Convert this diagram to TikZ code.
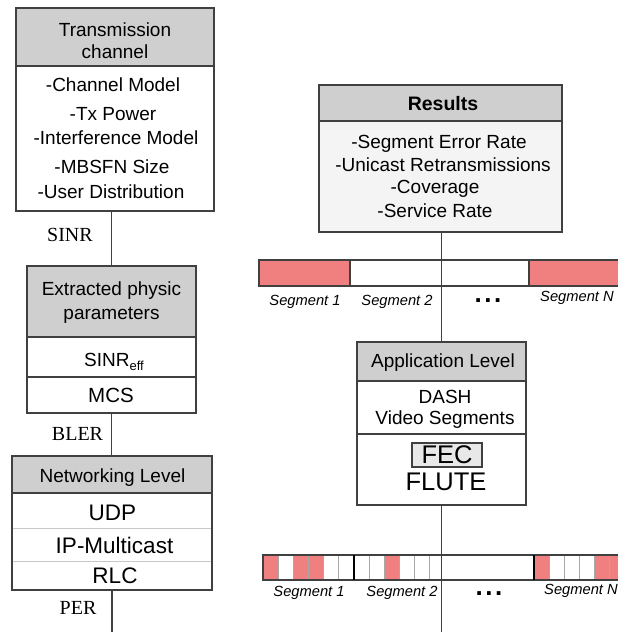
\documentclass[tikz,border=0pt]{standalone}
\usepackage{fontspec}
\setmainfont{Liberation Sans}
\newfontfamily\seriflabel{Liberation Serif}
\definecolor{boxline}{HTML}{404040}
\definecolor{headfill}{HTML}{CFCFCF}
\definecolor{softfill}{HTML}{F4F4F4}
\definecolor{fecfill}{HTML}{E8E8E8}
\definecolor{segred}{HTML}{F08080}
\definecolor{celldiv}{HTML}{A8A8A8}
\definecolor{rowline}{HTML}{C8C8C8}

\begin{document}
\begin{tikzpicture}[x=1pt,y=-1pt,
  frame/.style={draw=boxline, line width=1.2pt, inner sep=0pt, outer sep=0pt, anchor=north west},
  headbox/.style={frame, fill=headfill},
  bodybox/.style={frame, fill=white},
  lbl/.style={inner sep=0pt, anchor=base, font=\fontsize{19}{23}\selectfont},
  biglbl/.style={inner sep=0pt, anchor=base, font=\fontsize{22.5}{26}\selectfont},
  hugelbl/.style={inner sep=0pt, anchor=base, font=\fontsize{25.5}{30}\selectfont},
  siglbl/.style={inner sep=0pt, anchor=base, font=\seriflabel\fontsize{20}{24}\selectfont},
  seglbl/.style={inner sep=0pt, anchor=base, font=\itshape\fontsize{14.7}{17}\selectfont},
  dotlbl/.style={inner sep=0pt, anchor=base, font=\bfseries\fontsize{26}{28}\selectfont},
  conn/.style={draw=boxline, line width=1.4pt},
  rowdiv/.style={draw=rowline, line width=1pt},
  cell/.style={draw=celldiv, line width=1pt},
  segedge/.style={draw=black, line width=2pt},
  barline/.style={draw=boxline, line width=1.2pt},
]
\clip (0,0) rectangle (618,632);
\fill[white] (0,0) rectangle (618,632);

% ---------- Transmission channel ----------
\node[headbox, minimum width=198pt, minimum height=58pt] (th) at (16,8) {};
\node[bodybox, minimum width=198pt, minimum height=145pt] (tb) at (16,66) {};
\node[lbl] (th1) at (115,36) {Transmission};
\node[lbl] (th2) at (115,58) {channel};
\node[lbl] (tl1) at (113,91) {-Channel Model};
\node[lbl] (tl2) at (113,120) {-Tx Power};
\node[lbl] (tl3) at (116,144) {-Interference Model};
\node[lbl] (tl4) at (112,173) {-MBSFN Size};
\node[lbl] (tl5) at (111,198) {-User Distribution};

% ---------- Extracted physic parameters ----------
\node[headbox, minimum width=169pt, minimum height=71pt] (eh) at (27,266) {};
\node[bodybox, minimum width=169pt, minimum height=40pt] (er1) at (27,337) {};
\node[bodybox, minimum width=169pt, minimum height=36pt] (er2) at (27,377) {};
\node[lbl] (eh1) at (111.5,295) {Extracted physic};
\node[lbl] (eh2) at (111.5,319) {parameters};
\node[lbl] (sinreff) at (114,366) {SINR{\fontsize{13}{13}\selectfont\raisebox{-4pt}{eff}}};
\node[lbl, font=\fontsize{20.5}{24}\selectfont] (mcs) at (111,402) {MCS};

% ---------- Networking Level ----------
\node[headbox, minimum width=200pt, minimum height=37pt] (nh) at (12,456) {};
\node[bodybox, minimum width=200pt, minimum height=97pt] (nb) at (12,493) {};
\draw[rowdiv] (12.6,528) -- (211.4,528);
\draw[rowdiv] (12.6,561) -- (211.4,561);
\node[lbl] (nh1) at (112.5,482) {Networking Level};
\node[biglbl] (udp) at (112.5,520) {UDP};
\node[biglbl] (ipm) at (114.5,553) {IP-Multicast};
\node[biglbl] (rlc) at (115,583) {RLC};

% ---------- Results ----------
\node[headbox, minimum width=243pt, minimum height=36pt] (rh) at (319,85) {};
\node[frame, fill=softfill, minimum width=243pt, minimum height=111pt] (rb) at (319,121) {};
\node[lbl, font=\bfseries\fontsize{19.5}{23}\selectfont] (rh1) at (443,110) {Results};
\node[lbl] (rl1) at (439,148) {-Segment Error Rate};
\node[lbl] (rl2) at (443,171) {-Unicast Retransmissions};
\node[lbl] (rl3) at (435,193) {-Coverage};
\node[lbl] (rl4) at (435,217) {-Service Rate};

% ---------- Application Level ----------
\node[headbox, minimum width=169pt, minimum height=39pt] (ah) at (357,342) {};
\node[bodybox, minimum width=169pt, minimum height=53pt] (ar1) at (357,381) {};
\node[bodybox, minimum width=169pt, minimum height=71pt] (ar2) at (357,434) {};
\node[lbl] (ah1) at (443,367) {Application Level};
\node[lbl] (dash) at (445,403) {DASH};
\node[lbl] (vseg) at (445,424) {Video Segments};
\node[draw=boxline, line width=1.2pt, fill=fecfill, minimum width=70pt, minimum height=24pt,
      inner sep=0pt] (fecbox) at (447,455) {};
\node[hugelbl] (fec) at (447,463.5) {FEC};
\node[hugelbl] (flute) at (446,490) {FLUTE};

% ---------- segment bar above the application level ----------
\fill[segred] (259,260) rectangle (350,286);
\fill[segred] (529,260) rectangle (625,286);
\fill[white] (350,260) rectangle (529,286);
\draw[barline] (625,260) -- (259,260) -- (259,286) -- (625,286);
\draw[barline] (350,260) -- (350,286) (529,260) -- (529,286);
\node[seglbl] (s1a) at (305,305) {Segment 1};
\node[seglbl] (s2a) at (397,305) {Segment 2};
\node[dotlbl] (dta) at (488,302) {.\kern2.5pt.\kern2.5pt.};
\node[seglbl] (sna) at (577,301) {Segment N};

% ---------- segment bar below the application level ----------
\fill[white] (263,555) rectangle (625,580);
\fill[segred] (263,555) rectangle ({263+91/6},580);
\fill[segred] ({263+2*91/6},555) rectangle ({263+4*91/6},580);
\fill[segred] ({354+2*91/6},555) rectangle ({354+3*91/6},580);
\fill[segred] (534,555) rectangle ({534+91/6},580);
\fill[segred] ({534+4*91/6},555) rectangle (625,580);
\foreach \k in {1,...,5} {
  \draw[cell] ({263+\k*91/6},555) -- ({263+\k*91/6},580);
  \draw[cell] ({354+\k*91/6},555) -- ({354+\k*91/6},580);
  \draw[cell] ({534+\k*91/6},555) -- ({534+\k*91/6},580);
}
\draw[barline] (625,555) -- (263,555) -- (263,580) -- (625,580);
\draw[segedge] (354,555) -- (354,580) (534,555) -- (534,580);
\node[seglbl] (s1b) at (309,596) {Segment 1};
\node[seglbl] (s2b) at (402,596) {Segment 2};
\node[dotlbl] (dtb) at (489,595) {.\kern2.5pt.\kern2.5pt.};
\node[seglbl] (snb) at (581,594) {Segment N};

% ---------- connectors ----------
\coordinate (leftend) at (110,632);
\coordinate (rightend) at (442,632);
\draw[conn] (eh.north |- tb.south) -- (eh.north);
\draw[conn] (er2.south) -- (er2.south |- nh.north);
\draw[conn] (nb.south) -- (nb.south |- leftend);
\draw[conn] (ah.north |- rb.south) -- (ah.north);
\draw[conn] (ar2.south) -- (ar2.south |- rightend);
\node[siglbl] (sinr) at (70,241) {SINR};
\node[siglbl] (bler) at (77.5,440) {BLER};
\node[siglbl] (per) at (78,614) {PER};
\end{tikzpicture}
\end{document}
